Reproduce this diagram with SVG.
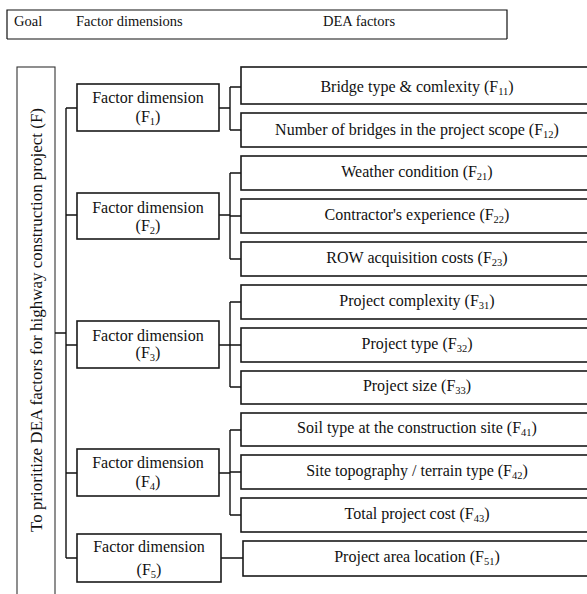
<svg xmlns="http://www.w3.org/2000/svg" width="587" height="594" viewBox="0 0 587 594">
<style>
text{font-family:"Liberation Serif","Times New Roman",serif;fill:#111}
.hd{font-size:14.5px}
.fd{font-size:16px;text-anchor:middle}
.fa{font-size:16px;text-anchor:middle}
.sub{font-size:10.5px}
.box{fill:#fff;stroke:#1a1a1a;stroke-width:1.6}
.goal{fill:#fff;stroke:#333;stroke-width:1.1}
.con{fill:none;stroke:#111;stroke-width:1.4}
</style>
<g id="header">
<path d="M7 39V10H507V39M7 39H507" fill="none" stroke="#111" stroke-width="1.2"/>
<text class="hd" x="14" y="26">Goal</text>
<text class="hd" x="76" y="26">Factor dimensions</text>
<text class="hd" x="323" y="26">DEA factors</text>
</g>
<g id="goal">
<rect class="goal" x="17" y="67" width="38" height="540"/>
<text font-size="16.5" transform="translate(42 320) rotate(-90)" text-anchor="middle" textLength="424" lengthAdjust="spacingAndGlyphs">To prioritize DEA factors for highway construction project (F)</text>
</g>
<g id="connectors">
<path class="con" d="M55 333H66M66 108V558"/>
<path class="con" d="M66 108H77M219 108H230M230 87V130M230 87H241M230 130H241"/>
<path class="con" d="M66 215H77M219 215H230M230 173V259M230 173H241M230 216H241M230 259H241"/>
<path class="con" d="M66 345H77M219 345H230M230 302V387M230 302H241M230 345H241M230 387H241"/>
<path class="con" d="M66 473H77M219 473H230M230 430V515M230 430H241M230 472H241M230 515H241"/>
<path class="con" d="M66 558H77M221 558H243"/>
</g>
<g id="F1"><rect class="box" x="77" y="84" width="142" height="47"/>
<text class="fd" x="148" y="103">Factor dimension</text>
<text class="fd" x="148" y="122">(F<tspan class="sub" dy="3">1</tspan><tspan dy="-3">)</tspan></text></g>
<g id="F2"><rect class="box" x="77" y="193" width="142" height="46"/>
<text class="fd" x="148" y="213">Factor dimension</text>
<text class="fd" x="148" y="231">(F<tspan class="sub" dy="3">2</tspan><tspan dy="-3">)</tspan></text></g>
<g id="F3"><rect class="box" x="77" y="321" width="142" height="47"/>
<text class="fd" x="148" y="341">Factor dimension</text>
<text class="fd" x="148" y="358">(F<tspan class="sub" dy="3">3</tspan><tspan dy="-3">)</tspan></text></g>
<g id="F4"><rect class="box" x="77" y="449" width="142" height="47"/>
<text class="fd" x="148" y="468">Factor dimension</text>
<text class="fd" x="148" y="487">(F<tspan class="sub" dy="3">4</tspan><tspan dy="-3">)</tspan></text></g>
<g id="F5"><rect class="box" x="77" y="534" width="144" height="48"/>
<text class="fd" x="149" y="552">Factor dimension</text>
<text class="fd" x="149" y="575">(F<tspan class="sub" dy="3">5</tspan><tspan dy="-3">)</tspan></text></g>
<g id="F11"><rect class="box" x="241" y="67" width="352" height="37"/>
<text class="fa" x="417" y="92">Bridge type &amp; comlexity (F<tspan class="sub" dy="3">11</tspan><tspan dy="-3">)</tspan></text></g>
<g id="F12"><rect class="box" x="241" y="113" width="352" height="34"/>
<text class="fa" x="417" y="135">Number of bridges in the project scope (F<tspan class="sub" dy="3">12</tspan><tspan dy="-3">)</tspan></text></g>
<g id="F21"><rect class="box" x="241" y="156" width="352" height="34"/>
<text class="fa" x="417" y="177">Weather condition (F<tspan class="sub" dy="3">21</tspan><tspan dy="-3">)</tspan></text></g>
<g id="F22"><rect class="box" x="241" y="199" width="352" height="34"/>
<text class="fa" x="417" y="220">Contractor's experience (F<tspan class="sub" dy="3">22</tspan><tspan dy="-3">)</tspan></text></g>
<g id="F23"><rect class="box" x="241" y="242" width="352" height="34"/>
<text class="fa" x="417" y="263">ROW acquisition costs (F<tspan class="sub" dy="3">23</tspan><tspan dy="-3">)</tspan></text></g>
<g id="F31"><rect class="box" x="241" y="285" width="352" height="34"/>
<text class="fa" x="417" y="306">Project complexity (F<tspan class="sub" dy="3">31</tspan><tspan dy="-3">)</tspan></text></g>
<g id="F32"><rect class="box" x="241" y="328" width="352" height="34"/>
<text class="fa" x="417" y="349">Project type (F<tspan class="sub" dy="3">32</tspan><tspan dy="-3">)</tspan></text></g>
<g id="F33"><rect class="box" x="241" y="371" width="352" height="33"/>
<text class="fa" x="417" y="391">Project size (F<tspan class="sub" dy="3">33</tspan><tspan dy="-3">)</tspan></text></g>
<g id="F41"><rect class="box" x="241" y="413" width="352" height="33"/>
<text class="fa" x="417" y="433">Soil type at the construction site (F<tspan class="sub" dy="3">41</tspan><tspan dy="-3">)</tspan></text></g>
<g id="F42"><rect class="box" x="241" y="455" width="352" height="34"/>
<text class="fa" x="417" y="476">Site topography / terrain type (F<tspan class="sub" dy="3">42</tspan><tspan dy="-3">)</tspan></text></g>
<g id="F43"><rect class="box" x="241" y="498" width="352" height="34"/>
<text class="fa" x="417" y="519">Total project cost (F<tspan class="sub" dy="3">43</tspan><tspan dy="-3">)</tspan></text></g>
<g id="F51"><rect class="box" x="243" y="541" width="350" height="35"/>
<text class="fa" x="417" y="562">Project area location (F<tspan class="sub" dy="3">51</tspan><tspan dy="-3">)</tspan></text></g>
</svg>
